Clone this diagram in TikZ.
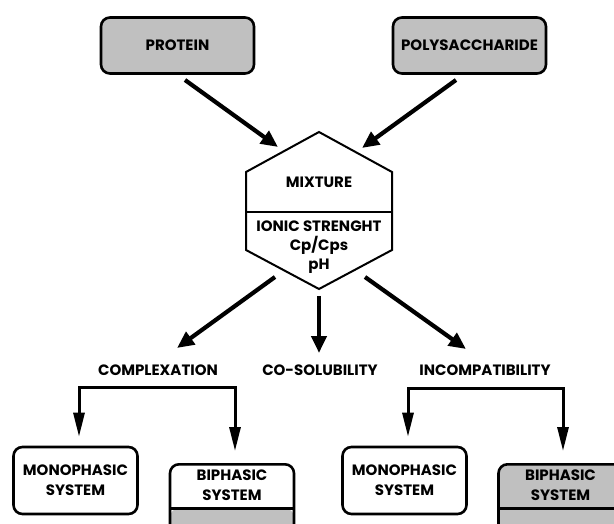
\documentclass[tikz,border=0pt]{standalone}
\usepackage{fontspec}
\setmainfont{Poppins}
\usetikzlibrary{arrows.meta,positioning}
\definecolor{ink}{HTML}{000000}
\definecolor{boxgray}{HTML}{C0C0C0}
\tikzset{
  flow/.style={-{Triangle[length=17pt,width=15pt]},line width=4.2pt,draw=ink},
  branch/.style={-{Triangle[length=24pt,width=11pt]},line width=3pt,draw=ink},
  hexline/.style={draw=ink,line width=2pt,line join=miter},
  base/.style={draw=ink,line width=2.6pt,rounded corners=9pt,align=center,
               inner sep=4pt,font=\fontsize{15}{20}\selectfont\bfseries},
  source/.style={base,fill=boxgray,minimum width=153pt,minimum height=56pt},
  mono/.style={base,fill=white,minimum width=124pt,minimum height=67pt},
  biphase/.style={base,fill=white,minimum width=124pt,anchor=north,inner ysep=6pt,
                  text depth=44pt,
                  path picture={
                    \fill[boxgray] ([yshift=-44pt]path picture bounding box.north west)
                      rectangle (path picture bounding box.south east);
                    \draw[ink,line width=2.5pt] ([yshift=-44pt]path picture bounding box.north west)
                      -- ([yshift=-44pt]path picture bounding box.north east);}},
  tag/.style={align=center,inner sep=2pt,font=\fontsize{15}{19}\selectfont\bfseries}
}
\begin{document}
\begin{tikzpicture}[x=1pt,y=-1pt]
  \useasboundingbox (0,0) rectangle (614,524);
  \clip (0,0) rectangle (614,524);
  % sources
  \node[source] (protein) at (177.5,45.5) {PROTEIN};
  \node[source] (polysac) at (469.5,45.5) {POLYSACCHARIDE};
  % mixture hexagon
  \coordinate (hex top) at (319,132);
  \coordinate (hex bot) at (319,289);
  \draw[hexline] (hex top) -- (392,172) -- (392,250) -- (hex bot) -- (246,250) -- (246,172) -- cycle;
  \draw[hexline] (246,212) -- (392,212);
  \node[tag] (mixture) at (319,182.5) {MIXTURE};
  \node[tag] (ionic) at (319,247) {IONIC STRENGHT\\Cp/Cps\\pH};
  \coordinate (prot out) at (185,80);   \coordinate (mix in l) at (278,147);
  \coordinate (poly out) at (456,80);   \coordinate (mix in r) at (362,148);
  \draw[flow] (prot out) -- (mix in l);
  \draw[flow] (poly out) -- (mix in r);
  % outcomes
  \node[tag] (complex) at (158,370.5) {COMPLEXATION};
  \node[tag] (cosol) at (320,370.5) {CO-SOLUBILITY};
  \node[tag] (incomp) at (485,370.5) {INCOMPATIBILITY};
  \draw[flow] (275,277) -- (177,348);
  \draw[flow] (hex bot) ++(0,7) -- (319,353);
  \draw[flow] (365,277) -- (466,349);
  % systems
  \node[mono] (mono1) at (75.5,480.5) {MONOPHASIC\\SYSTEM};
  \node[biphase] (bi1) at (232,463) {BIPHASIC\\SYSTEM};
  \node[mono] (mono2) at (404.5,480.5) {MONOPHASIC\\SYSTEM};
  \node[biphase,fill=boxgray] (bi2) at (560.5,463) {BIPHASIC\\SYSTEM};
  \coordinate (fork1) at (157,387);
  \coordinate (fork2) at (485,388);
  \draw[branch] (fork1) -| ([xshift=3.5pt,yshift=9pt]mono1.north);
  \draw[branch] (fork1) -| ([xshift=3pt,yshift=12pt]bi1.north);
  \draw[branch] (fork2) -| ([xshift=3.5pt,yshift=9pt]mono2.north);
  \draw[branch] (fork2) -| ([xshift=2.5pt,yshift=12pt]bi2.north);
\end{tikzpicture}
\end{document}
